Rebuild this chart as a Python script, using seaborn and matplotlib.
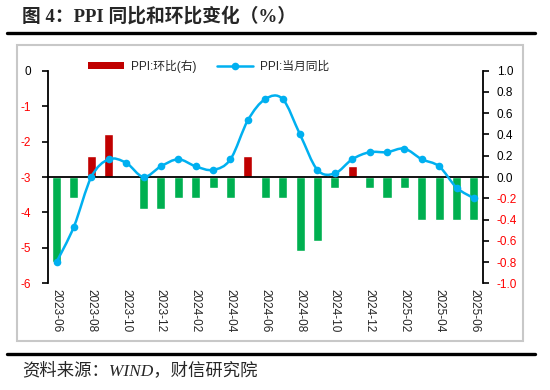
import numpy as np
import pandas as pd
import matplotlib
matplotlib.use("Agg")
import matplotlib.pyplot as plt
import seaborn as sns
from matplotlib.patches import Patch, Rectangle, PathPatch
from matplotlib.lines import Line2D
from matplotlib.path import Path

# ----------------------------
# data
# ----------------------------
months = ["2023-06", "2023-07", "2023-08", "2023-09", "2023-10", "2023-11", "2023-12",
          "2024-01", "2024-02", "2024-03", "2024-04", "2024-05", "2024-06", "2024-07",
          "2024-08", "2024-09", "2024-10", "2024-11", "2024-12",
          "2025-01", "2025-02", "2025-03", "2025-04", "2025-05", "2025-06"]
ppi_yoy = [-5.4, -4.4, -3.0, -2.5, -2.6, -3.0, -2.7,
           -2.5, -2.7, -2.8, -2.5, -1.4, -0.8, -0.8,
           -1.8, -2.8, -2.9, -2.5, -2.3,
           -2.3, -2.2, -2.5, -2.7, -3.3, -3.6]
ppi_mom = [-0.8, -0.2, 0.2, 0.4, 0.0, -0.3, -0.3,
           -0.2, -0.2, -0.1, -0.2, 0.2, -0.2, -0.2,
           -0.7, -0.6, -0.1, 0.1, -0.1,
           -0.2, -0.1, -0.4, -0.4, -0.4, -0.4]

left_ticks = [0, -1, -2, -3, -4, -5, -6]
right_ticks = [1.0, 0.8, 0.6, 0.4, 0.2, 0.0, -0.2, -0.4, -0.6, -0.8, -1.0]

RED = "#C00000"
GREEN = "#00B050"
BLUE = "#00B0F0"

df = pd.DataFrame({"idx": np.arange(len(months)), "month": months,
                   "yoy": ppi_yoy, "mom": ppi_mom})
df["sign"] = np.where(df["mom"] >= 0, "up", "down")

# ----------------------------
# style
# ----------------------------
sns.set_style("white")
plt.rcParams["font.family"] = ["Liberation Sans", "Noto Sans CJK SC"]
plt.rcParams["axes.unicode_minus"] = False

W, H = 550, 390
fig = plt.figure(figsize=(W / 100, H / 100), dpi=100)

ax_l, ax_r, ax_t, ax_b = 47.5, 483, 70.7, 283.3
ax = fig.add_axes([ax_l / W, 1 - ax_b / H, (ax_r - ax_l) / W, (ax_b - ax_t) / H])
ax2 = ax.twinx()

# bars: month-on-month (right axis)
sns.barplot(data=df, x="idx", y="mom", hue="sign", palette={"up": RED, "down": GREEN},
            dodge=False, width=0.52, saturation=1, legend=False, ax=ax2, zorder=2)

# line: year-on-year (left axis), smoothed like Excel
x = df["idx"].to_numpy(dtype=float)
y = df["yoy"].to_numpy(dtype=float)
verts = [(x[0], y[0])]
codes = [Path.MOVETO]
n = len(x)
for i in range(n - 1):
    p0 = i - 1 if i > 0 else 0
    p3 = i + 2 if i + 2 < n else n - 1
    c1 = (x[i] + (x[i + 1] - x[p0]) / 6, y[i] + (y[i + 1] - y[p0]) / 6)
    c2 = (x[i + 1] - (x[p3] - x[i]) / 6, y[i + 1] - (y[p3] - y[i]) / 6)
    verts += [c1, c2, (x[i + 1], y[i + 1])]
    codes += [Path.CURVE4] * 3
ax.add_patch(PathPatch(Path(verts, codes), facecolor="none", edgecolor=BLUE, lw=1.8, zorder=3))
sns.lineplot(data=df, x="idx", y="yoy", ax=ax, color=BLUE, marker="o", markersize=5.5,
             markeredgewidth=0, linewidth=0, zorder=4)

ax.set_xlim(-0.52, len(months) - 0.48)
ax.set_ylim(-6, 0)
ax2.set_ylim(-1, 1)

# x axis: labels at the bottom, tick marks on the zero line
ax.set_xticks(np.arange(0, len(months), 2))
ax.set_xticklabels(months[::2], rotation=-90, fontsize=8.5)
ax.set_xticks(np.arange(1.5, len(months) - 1, 2), minor=True)
ax.tick_params(axis="x", which="both", length=0, pad=4)
ax2.xaxis.set_visible(True)
ax2.tick_params(axis="x", which="major", length=0, labelbottom=False)
ax2.tick_params(axis="x", which="minor", length=4, width=1.2, direction="out",
                color="black", labelbottom=False)
ax2.spines["bottom"].set_position(("data", 0))
ax2.spines["bottom"].set_color("black")
ax2.spines["bottom"].set_linewidth(1.3)

# line axis drawn above the bar axis
ax2.set_zorder(1)
ax.set_zorder(2)
ax.patch.set_visible(False)

for a in (ax, ax2):
    a.spines["top"].set_visible(False)
    a.set_xlabel("")
    a.set_ylabel("")
ax.spines["bottom"].set_visible(False)
ax.spines["right"].set_visible(False)
ax2.spines["left"].set_visible(False)
ax.spines["left"].set_color("black")
ax.spines["left"].set_linewidth(1.3)
ax2.spines["right"].set_color("black")
ax2.spines["right"].set_linewidth(1.3)

ax.set_yticks(left_ticks)
ax.set_yticklabels([str(v) for v in left_ticks], fontsize=8.5)
ax.tick_params(axis="y", length=4, width=1.2, direction="out", color="black", pad=8)
for t, v in zip(ax.get_yticklabels(), left_ticks):
    t.set_color("red" if v < 0 else "black")

ax2.set_yticks(right_ticks)
ax2.set_yticklabels([f"{v:.1f}" for v in right_ticks], fontsize=8.5)
ax2.tick_params(axis="y", length=4, width=1.2, direction="out", color="black", pad=6)
for t, v in zip(ax2.get_yticklabels(), right_ticks):
    t.set_color("red" if v < 0 else "black")

ax.grid(False)
ax2.grid(False)

# legend
handles = [Patch(facecolor=RED, edgecolor="none"),
           Line2D([], [], color=BLUE, lw=1.8, marker="o", markersize=5.5, markeredgewidth=0)]
ax.legend(handles, ["PPI:环比(右)", "PPI:当月同比"], loc="center", ncol=2,
          bbox_to_anchor=(0.37, 1.022), frameon=False, fontsize=8.5,
          handlelength=3.0, handleheight=0.6, handletextpad=0.6, columnspacing=1.8,
          labelcolor="#262626")

# frame, rules, title and source
fig.add_artist(Rectangle((17.5 / W, 1 - 341 / H), (523 - 17.5) / W, (341 - 44.5) / H,
                         transform=fig.transFigure, facecolor="none",
                         edgecolor="#C8C8C8", lw=1.5))
for yy in (32.5, 353.5):
    fig.add_artist(Line2D([7 / W, 535 / W], [1 - yy / H] * 2, transform=fig.transFigure,
                          color="black", lw=2.4))

fig.text(22 / W, 1 - 16 / H, "图 4：PPI 同比和环比变化（%）", fontsize=13.5, fontweight="bold",
         family=["Liberation Serif", "Noto Sans CJK SC"], va="center", ha="left")
fig.text(22 / W, 1 - 371 / H, "资料来源：WIND，财信研究院", fontsize=12.5, style="italic",
         family=["Liberation Serif", "Noto Sans CJK SC"], va="center", ha="left")

fig.savefig("out.png", dpi=100)
